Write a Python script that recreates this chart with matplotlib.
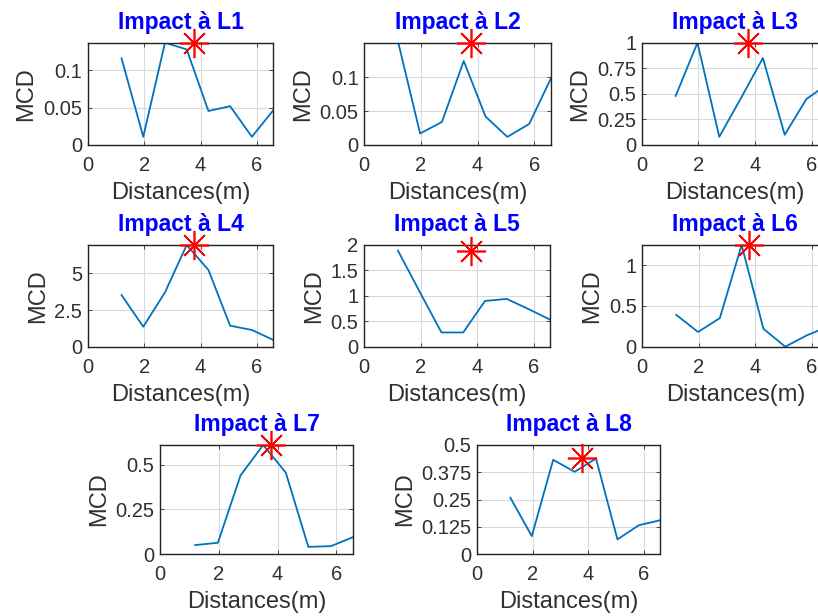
import matplotlib
matplotlib.use("Agg")
import matplotlib.pyplot as plt
import numpy as np

plt.rcParams['font.family'] = ['Liberation Sans', 'DejaVu Sans']

distances = [1.2, 1.97, 2.74, 3.51, 4.28, 5.05, 5.82, 6.59]
titles = ["Impact à L1", "Impact à L2", "Impact à L3", "Impact à L4",
          "Impact à L5", "Impact à L6", "Impact à L7", "Impact à L8"]

mcd_L1 = [0.116, 0.011, 0.137, 0.128, 0.0455, 0.052, 0.011, 0.047]
mcd_L2 = [0.151, 0.017, 0.034, 0.124, 0.042, 0.012, 0.031, 0.0985]
mcd_L3 = [0.48, 1.0, 0.08, 0.46, 0.85, 0.1, 0.45, 0.6]
mcd_L4 = [3.52, 1.36, 3.7, 6.93, 5.23, 1.43, 1.14, 0.45]
mcd_L5 = [1.89, 1.08, 0.28, 0.28, 0.9, 0.94, 0.74, 0.53]
mcd_L6 = [0.39, 0.18, 0.35, 1.245, 0.22, 0.0, 0.14, 0.25]
mcd_L7 = [0.05, 0.063, 0.44, 0.611, 0.457, 0.04, 0.044, 0.096]
mcd_L8 = [0.258, 0.082, 0.432, 0.377, 0.438, 0.067, 0.132, 0.155]
series = [mcd_L1, mcd_L2, mcd_L3, mcd_L4, mcd_L5, mcd_L6, mcd_L7, mcd_L8]

impact_x = 3.77
impact_y = [0.137, 0.151, 1.0, 6.93, 1.89, 1.245, 0.611, 0.44]

y_max = [0.137, 0.151, 1.0, 6.93, 2.0, 1.245, 0.611, 0.5]
y_ticks = [[0, 0.05, 0.1], [0, 0.05, 0.1], [0, 0.25, 0.5, 0.75, 1],
           [0, 2.5, 5], [0, 0.5, 1, 1.5, 2], [0, 0.5, 1],
           [0, 0.25, 0.5], [0, 0.125, 0.25, 0.375, 0.5]]
y_ticklabels = [["0", "0.05", "0.1"], ["0", "0.05", "0.1"],
                ["0", "0.25", "0.5", "0.75", "1"], ["0", "2.5", "5"],
                ["0", "0.5", "1", "1.5", "2"], ["0", "0.5", "1"],
                ["0", "0.25", "0.5"], ["0", "0.125", "0.25", "0.375", "0.5"]]
x_ticks = [0, 2, 4, 6]

W, H = 818, 616
# (left, right, top, bottom) in pixels
boxes = [(87.7, 273.3, 42.7, 145), (364.3, 550.7, 42.7, 145), (641.7, 828, 42.7, 145),
         (87.7, 273.3, 245, 346.7), (364, 550, 245, 346.7), (642.3, 828.5, 245, 346.7),
         (160, 353.3, 445, 554), (477, 660, 445, 554)]

fig = plt.figure(figsize=(W / 100, H / 100), dpi=100)
fig.patch.set_facecolor('white')
dark = '#303030'
for i, (l, r, t, b) in enumerate(boxes):
    ax = fig.add_axes([l / W, 1 - b / H, (r - l) / W, (b - t) / H])
    ax.plot(distances, series[i], color='#0072BD', lw=1.3)
    ax.plot([impact_x], [impact_y[i]], linestyle='none', marker=(8, 2, 0),
            markersize=21, color='red', markeredgewidth=1.2, clip_on=False, zorder=5)
    ax.set_xlim(0, 6.58)
    ax.set_ylim(0, y_max[i])
    ax.set_xticks(x_ticks)
    ax.set_xticklabels([str(v) for v in x_ticks])
    ax.set_yticks(y_ticks[i])
    ax.set_yticklabels(y_ticklabels[i])
    ax.grid(True, color='#d9d9d9', lw=0.8)
    ax.set_axisbelow(True)
    ax.tick_params(direction='in', length=3, width=0.6, colors=dark,
                   labelsize=14.5, top=True, right=True)
    ax.tick_params(axis='x', pad=8)
    ax.tick_params(axis='y', pad=4)
    for s in ax.spines.values():
        s.set_color('#222222')
        s.set_linewidth(1.0)
    ax.set_title(titles[i], color='blue', fontweight='bold', fontsize=16.5, pad=10)
    ax.set_xlabel("Distances(m)", fontsize=17, color=dark, labelpad=5)
    ax.set_ylabel("MCD", fontsize=17, color=dark, labelpad=4)

fig.savefig("out.png", dpi=100)
